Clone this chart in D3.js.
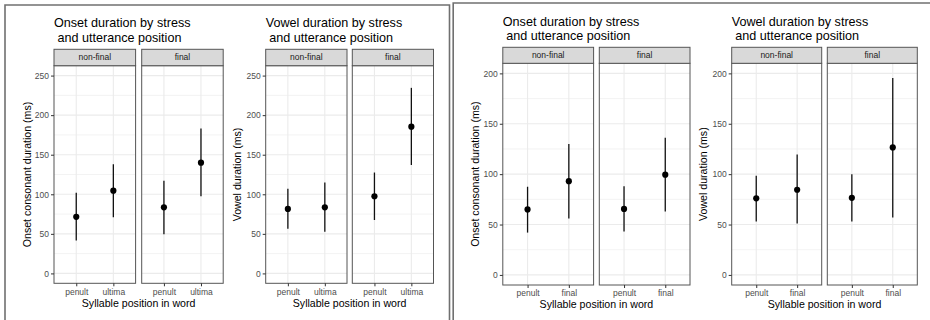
<!DOCTYPE html>
<html>
<head>
<meta charset="utf-8">
<script src="https://cdn.jsdelivr.net/npm/d3@7"></script>
<style>
  html, body { margin: 0; padding: 0; background: #fff; }
  svg { display: block; font-family: "Liberation Sans", Arial, sans-serif; }
</style>
</head>
<body>
<svg id="chart" width="930" height="320"></svg>
<script>
// ---------- data ----------
const facets = ["non-final", "final"];
const leftCategories = ["penult", "ultima"];
const rightCategories = ["penult", "final"];
const leftYTicks = [0, 50, 100, 150, 200, 250];
const rightYTicks = [0, 50, 100, 150, 200];

const onsetTitle = ["Onset duration by stress", " and utterance position"];
const vowelTitle = ["Vowel duration by stress", " and utterance position"];
const onsetYLabel = "Onset consonant duration (ms)";
const vowelYLabel = "Vowel duration (ms)";
const xLabel = "Syllable position in word";

// values per facet [non-final, final], each per category
const leftOnsetMean = [[71.5, 104.5], [83.5, 140]];
const leftOnsetLow  = [[41.5, 71],    [49.5, 97.5]];
const leftOnsetHigh = [[102, 138],    [117, 183]];

const leftVowelMean = [[81.5, 83.5],  [97.5, 185.5]];
const leftVowelLow  = [[56.5, 52.5],  [67.5, 137]];
const leftVowelHigh = [[107, 115],    [127.5, 234.5]];

const rightOnsetMean = [[65, 93],     [65.5, 99.5]];
const rightOnsetLow  = [[42, 56],     [43, 63]];
const rightOnsetHigh = [[87.5, 130],  [88, 136]];

const rightVowelMean = [[76, 84.5],   [76.5, 126.5]];
const rightVowelLow  = [[53, 51],     [53, 57]];
const rightVowelHigh = [[98.5, 119.5],[100, 195.5]];

// ---------- layout ----------
const svg = d3.select("#chart");

// outer frame lines
svg.append("path").attr("d", "M5,322V5H449.5V322")
  .attr("fill", "none").attr("stroke", "#707070").attr("stroke-width", 1.6);
svg.append("path").attr("d", "M453.2,322V3H932")
  .attr("fill", "none").attr("stroke", "#707070").attr("stroke-width", 1.6);

const charts = [
  { title: onsetTitle, ylab: onsetYLabel, cats: leftCategories, ticks: leftYTicks, ymax: 250,
    mean: leftOnsetMean, low: leftOnsetLow, high: leftOnsetHigh,
    panels: [[54, 135.6], [141.7, 223.2]], top: 65.7, bottom: 283.3, stripTop: 49.3,
    titleY: [27.2, 41.7], ylabX: 27, tickY: 295, xlabY: 307.3 },
  { title: vowelTitle, ylab: vowelYLabel, cats: leftCategories, ticks: leftYTicks, ymax: 250,
    mean: leftVowelMean, low: leftVowelLow, high: leftVowelHigh,
    panels: [[265.7, 347], [352.3, 433.5]], top: 65.7, bottom: 283.3, stripTop: 49.3,
    titleY: [27.2, 41.7], ylabX: 237.3, tickY: 295, xlabY: 307.3 },
  { title: onsetTitle, ylab: onsetYLabel, cats: rightCategories, ticks: rightYTicks, ymax: 200,
    mean: rightOnsetMean, low: rightOnsetLow, high: rightOnsetHigh,
    panels: [[502.8, 593.6], [599.3, 690]], top: 63.3, bottom: 285, stripTop: 47.3,
    titleY: [25.6, 40.1], ylabX: 475, tickY: 296, xlabY: 308.3 },
  { title: vowelTitle, ylab: vowelYLabel, cats: rightCategories, ticks: rightYTicks, ymax: 200,
    mean: rightVowelMean, low: rightVowelLow, high: rightVowelHigh,
    panels: [[731.7, 821.7], [827.3, 917.3]], top: 63.3, bottom: 285, stripTop: 47.3,
    titleY: [25.6, 40.1], ylabX: 703.3, tickY: 296, xlabY: 308.3 }
];

charts.forEach(c => {
  const g = svg.append("g");
  const exp = c.ymax * 0.05;
  const y = d3.scaleLinear().domain([-exp, c.ymax + exp]).range([c.bottom, c.top]);
  const minorTicks = d3.range(25, c.ymax + exp, 50);

  // title (two lines)
  c.title.forEach((line, i) => {
    g.append("text")
      .attr("x", c.panels[0][0]).attr("y", c.titleY[i])
      .attr("font-size", 12.6).attr("fill", "#000")
      .attr("xml:space", "preserve").style("white-space", "pre")
      .text(line);
  });

  c.panels.forEach((p, fi) => {
    const x = d3.scalePoint().domain(c.cats).range([p[0], p[1]]).padding(0.6);
    const pg = g.append("g");

    // panel background
    pg.append("rect").attr("x", p[0]).attr("y", c.top)
      .attr("width", p[1] - p[0]).attr("height", c.bottom - c.top).attr("fill", "#fff");

    // minor gridlines
    pg.selectAll(".minor").data(minorTicks).join("line")
      .attr("x1", p[0]).attr("x2", p[1])
      .attr("y1", d => y(d)).attr("y2", d => y(d))
      .attr("stroke", "#EBEBEB").attr("stroke-width", 0.6);
    // major gridlines
    pg.selectAll(".major").data(c.ticks).join("line")
      .attr("x1", p[0]).attr("x2", p[1])
      .attr("y1", d => y(d)).attr("y2", d => y(d))
      .attr("stroke", "#EBEBEB").attr("stroke-width", 1.1);
    pg.selectAll(".vmajor").data(c.cats).join("line")
      .attr("x1", d => x(d)).attr("x2", d => x(d))
      .attr("y1", c.top).attr("y2", c.bottom)
      .attr("stroke", "#EBEBEB").attr("stroke-width", 1.1);

    // error bars
    pg.selectAll(".err").data(c.cats).join("line")
      .attr("x1", d => x(d)).attr("x2", d => x(d))
      .attr("y1", (d, i) => y(c.low[fi][i])).attr("y2", (d, i) => y(c.high[fi][i]))
      .attr("stroke", "#111").attr("stroke-width", 1.3);
    // points
    pg.selectAll(".pt").data(c.cats).join("circle")
      .attr("cx", d => x(d)).attr("cy", (d, i) => y(c.mean[fi][i]))
      .attr("r", 3.1).attr("fill", "#000");

    // panel border
    pg.append("rect").attr("x", p[0]).attr("y", c.top)
      .attr("width", p[1] - p[0]).attr("height", c.bottom - c.top)
      .attr("fill", "none").attr("stroke", "#555").attr("stroke-width", 1);

    // strip
    pg.append("rect").attr("x", p[0]).attr("y", c.stripTop)
      .attr("width", p[1] - p[0]).attr("height", c.top - c.stripTop)
      .attr("fill", "#D9D9D9").attr("stroke", "#555").attr("stroke-width", 1);
    pg.append("text")
      .attr("x", (p[0] + p[1]) / 2).attr("y", (c.stripTop + c.top) / 2)
      .attr("dy", "0.35em").attr("text-anchor", "middle")
      .attr("font-size", 8.5).attr("fill", "#1A1A1A")
      .text(facets[fi]);

    // x axis
    const xa = d3.axisBottom(x).tickSize(3).tickPadding(3);
    const xg = pg.append("g").attr("transform", `translate(0,${c.bottom})`).call(xa);
    xg.select(".domain").remove();
    xg.selectAll(".tick line").attr("stroke", "#333");
    xg.selectAll(".tick text").attr("font-size", 8.5).attr("fill", "#4D4D4D")
      .attr("font-family", "Liberation Sans, Arial, sans-serif")
      .attr("y", c.tickY - c.bottom).attr("dy", 0);
  });

  // y axis
  const ya = d3.axisLeft(y).tickValues(c.ticks).tickSize(3).tickPadding(2);
  const yg = g.append("g").attr("transform", `translate(${c.panels[0][0]},0)`).call(ya);
  yg.select(".domain").remove();
  yg.selectAll(".tick line").attr("stroke", "#333");
  yg.selectAll(".tick text").attr("font-size", 8.5).attr("fill", "#4D4D4D")
    .attr("font-family", "Liberation Sans, Arial, sans-serif");

  // y label
  g.append("text")
    .attr("transform", `translate(${c.ylabX},${(c.top + c.bottom) / 2}) rotate(-90)`)
    .attr("text-anchor", "middle").attr("dy", "0.35em")
    .attr("font-size", 10.6).attr("fill", "#000")
    .text(c.ylab);

  // x label
  g.append("text")
    .attr("x", (c.panels[0][0] + c.panels[1][1]) / 2).attr("y", c.xlabY)
    .attr("text-anchor", "middle")
    .attr("font-size", 10.6).attr("fill", "#000")
    .text(xLabel);
});
</script>
</body>
</html>
